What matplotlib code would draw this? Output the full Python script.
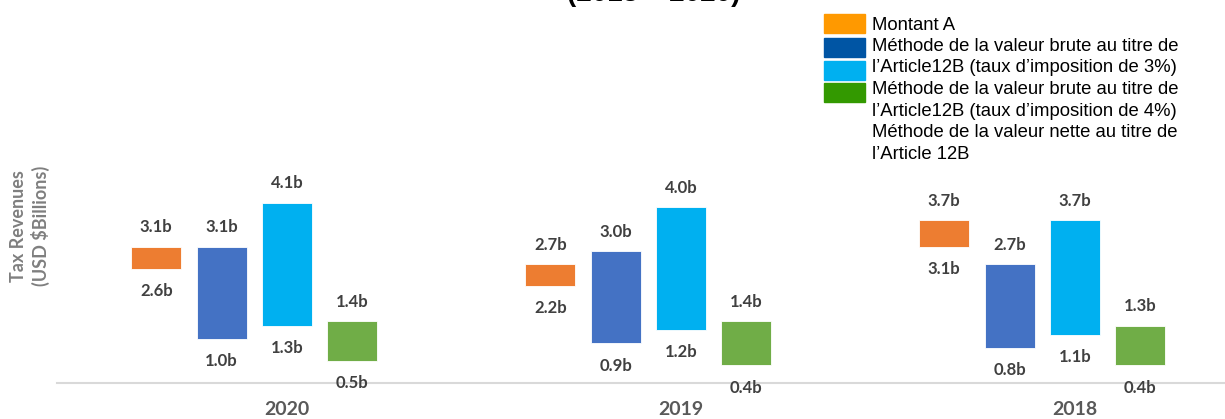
import matplotlib.pyplot as plt
from matplotlib.patches import Rectangle

# data: each series is a (low, high) range per year
years = ["2020", "2019", "2018"]
montant_a_low = [2.6, 2.2, 3.1]
montant_a_high = [3.1, 2.7, 3.7]
brute3_low = [1.0, 0.9, 0.8]
brute3_high = [3.1, 3.0, 2.7]
brute4_low = [1.3, 1.2, 1.1]
brute4_high = [4.1, 4.0, 3.7]
nette_low = [0.5, 0.4, 0.4]
nette_high = [1.4, 1.4, 1.3]

series = [
    (montant_a_low, montant_a_high, "#ED7D31"),
    (brute3_low, brute3_high, "#4472C4"),
    (brute4_low, brute4_high, "#00B0F0"),
    (nette_low, nette_high, "#70AD47"),
]

legend_colors = ["#FF9900", "#0055A4", "#00B0F0", "#339900"]
legend_lines = [
    "Montant A",
    "Méthode de la valeur brute au titre de",
    "l\u2019Article12B (taux d\u2019imposition de 3%)",
    "Méthode de la valeur brute au titre de",
    "l\u2019Article12B (taux d\u2019imposition de 4%)",
    "Méthode de la valeur nette au titre de",
    "l\u2019Article 12B",
]

W, H = 1225, 419
fig = plt.figure(figsize=(W / 100, H / 100), dpi=100)
ax = fig.add_axes([57 / W, (H - 383) / H, (W - 57) / W, 383 / H])

slot = 0.166
width = 0.127
label_kw = dict(ha="center", va="center", fontsize=12, fontweight="bold",
                color="#404040", family=["Lato", "DejaVu Sans"],
                textcoords="offset points")

for i, (low, high, col) in enumerate(series):
    # 5 slots per year, the 5th series has no bar
    xs = [k + (i - 2) * slot for k in range(len(years))]
    heights = [h - l for l, h in zip(low, high)]
    ax.bar(xs, heights, bottom=low, width=width, color=col,
           edgecolor="white", linewidth=0.6)
    for x, l, h in zip(xs, low, high):
        ax.annotate(f"{h:.1f}b", (x, h), xytext=(0, 14), **label_kw)
        ax.annotate(f"{l:.1f}b", (x, l), xytext=(0, -16), **label_kw)

ax.set_xlim(-230 / 394, (W - 287) / 394)
ax.set_ylim(0, 383 / 44)
ax.set_xticks(range(len(years)))
ax.set_xticklabels(years, fontsize=14, fontweight="bold", color="#595959",
                   family=["Lato", "DejaVu Sans"])
ax.tick_params(axis="x", length=0, pad=13)
ax.set_yticks([])
for s in ["top", "left", "right"]:
    ax.spines[s].set_visible(False)
ax.spines["bottom"].set_color("#D9D9D9")
ax.spines["bottom"].set_linewidth(1.5)
ax.patch.set_alpha(0)

fig.text(30 / W, 1 - 226 / H, "Tax Revenues\n(USD $Billions)", rotation=90,
         ha="center", va="center", fontsize=13, fontweight="bold",
         color="#7F7F7F", family=["Lato", "DejaVu Sans"], linespacing=1.3)

fig.text(654 / W, 1 - 1 / H, "(2018 \u2013 2020)", ha="center", va="baseline",
         fontsize=20, fontweight="bold", family="Liberation Sans")

# legend drawn by hand (4 swatches, 7 text lines)
sw_y = [14, 38, 61, 83]
for y, c in zip(sw_y, legend_colors):
    fig.patches.append(Rectangle((824 / W, 1 - (y + 19) / H), 41 / W, 19 / H,
                                 transform=fig.transFigure, color=c))
for j, line in enumerate(legend_lines):
    fig.text(872 / W, 1 - (25 + j * 21.5) / H, line, ha="left", va="center",
             fontsize=13.3, family="Liberation Sans")

fig.savefig("out.png", dpi=100)
